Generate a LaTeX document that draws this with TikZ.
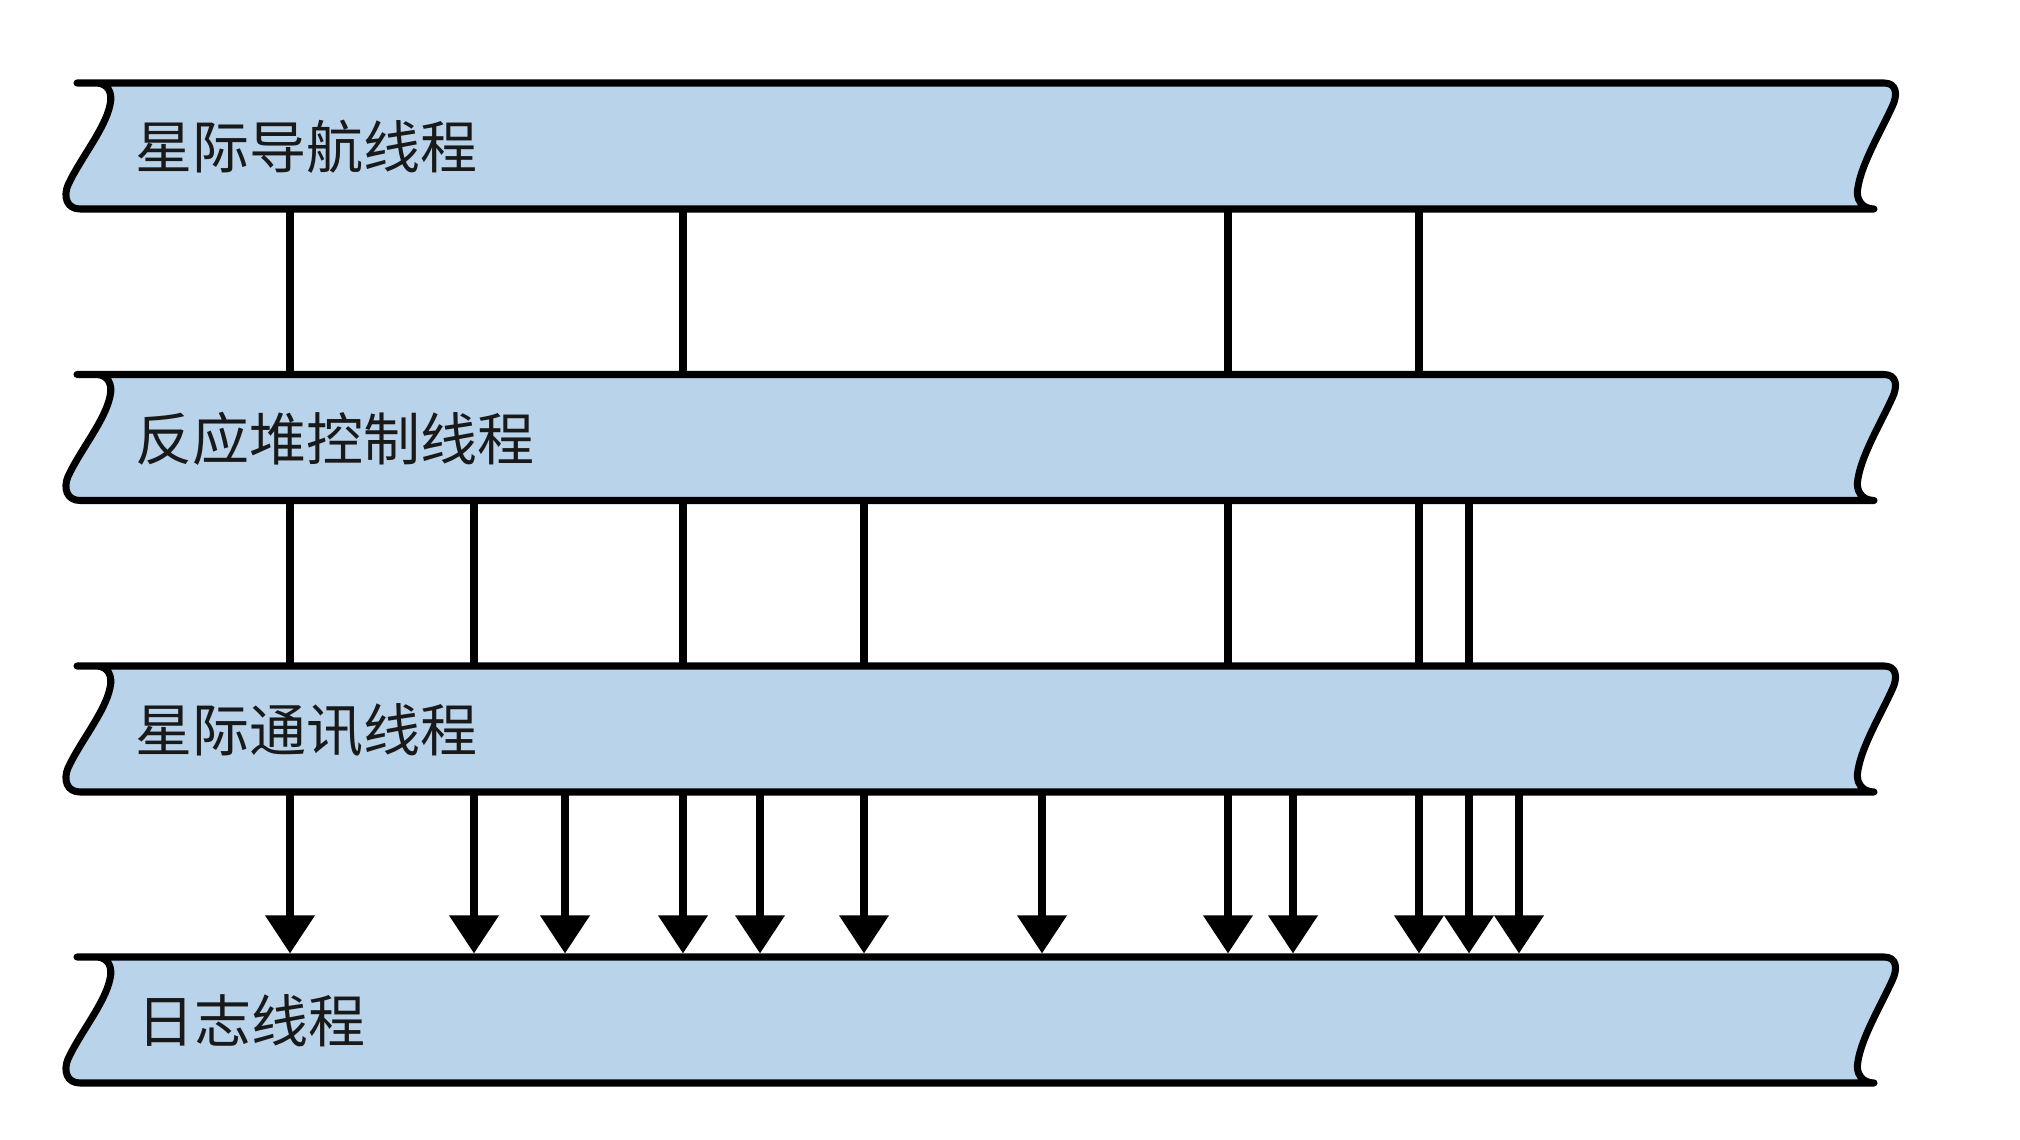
\documentclass[tikz,border=0pt]{standalone}
\usepackage{fontspec}
\newfontfamily\cjk{Noto Sans CJK SC}
\usetikzlibrary{arrows.meta}
\definecolor{bandblue}{HTML}{B8D3EA}
\tikzset{
  band/.style={fill=bandblue, draw=black, line width=2pt, line join=round},
  bandbox/.style={minimum width=18.17cm, minimum height=1.26cm, inner sep=0pt, outer sep=0pt},
  lbl/.style={font=\cjk\fontsize{16.2}{18}\selectfont, anchor=west, inner sep=0pt, text=black!90},
  link/.style={line width=2pt},
  arr/.style={line width=2pt, -{Triangle[width=4.8mm,length=3.8mm]}, shorten >=0.35mm},
}
\newcommand\drawbandshape[2]{%
  \draw[band] (77,#1) -- (1884,#1) .. controls (1897,#1) and (1898,#1+12) .. (1892,#1+24)
    .. controls (1880,#1+50) and (1862,#1+80) .. (1858,#2-22)
    .. controls (1855,#2-10) and (1862,#2) .. (1874,#2) -- (80,#2)
    .. controls (67,#2) and (63,#2-12) .. (68,#2-24)
    .. controls (80,#2-50) and (105,#2-80) .. (110,#1+22)
    .. controls (113,#1+10) and (108,#1) .. (96,#1) -- cycle;}
\begin{document}
\begin{tikzpicture}[x=0.01cm,y=-0.01cm]
\useasboundingbox (0,0) rectangle (2020,1140);
% band anchors
\node[bandbox] (b1) at (985.5,146) {};
\node[bandbox] (b2) at (985.5,437.5) {};
\node[bandbox] (b3) at (985.5,729) {};
\node[bandbox] (b4) at (985.5,1020) {};
% connectors
\foreach \x in {290,683,1228,1419}
  \draw[link] (b1.south -| \x,0) -- (b2.north -| \x,0);
\foreach \x in {290,474,683,864,1228,1419,1469}
  \draw[link] (b2.south -| \x,0) -- (b3.north -| \x,0);
\foreach \x in {290,474,565,683,760,864,1042,1228,1293,1419,1469,1519}
  \draw[arr] (b3.south -| \x,0) -- (b4.north -| \x,0);
% bands
\drawbandshape{83}{209}
\drawbandshape{374.5}{500.5}
\drawbandshape{666}{792}
\drawbandshape{957}{1083}
% labels
\node[lbl] (l1) at (135,147) {星际导航线程};
\node[lbl] (l2) at (135,438.5) {反应堆控制线程};
\node[lbl] (l3) at (135,730) {星际通讯线程};
\node[lbl] (l4) at (137,1021) {日志线程};
\end{tikzpicture}
\end{document}
